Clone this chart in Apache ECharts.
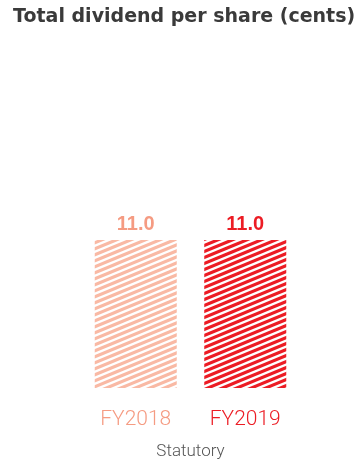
<!DOCTYPE html>
<html>
<head>
<meta charset="utf-8">
<script src="https://cdn.jsdelivr.net/npm/echarts@6/dist/echarts.min.js"></script>
<style>
  html, body { margin: 0; padding: 0; background: #fff; }
  #chart { width: 363px; height: 461px; }
</style>
</head>
<body>
<div id="chart"></div>
<script>
var categories = ["FY2018", "FY2019"];
var values = [11.0, 11.0];
var barColors = ["#F9B9A4", "#EC1C24"];
var labelColors = ["#F59B82", "#EC1C24"];

// diagonal stripe tile, lines rising to the right
function stripes(color) {
  var w = 58, h = 24, step = 6;
  var c = document.createElement("canvas");
  c.width = w; c.height = h;
  var ctx = c.getContext("2d");
  ctx.fillStyle = "#fff";
  ctx.fillRect(0, 0, w, h);
  ctx.strokeStyle = color;
  ctx.lineWidth = 3.1;
  for (var y = -step; y <= 2 * h + step; y += step) {
    ctx.beginPath();
    ctx.moveTo(-w, y + h);
    ctx.lineTo(2 * w, y - 2 * h);
    ctx.stroke();
  }
  return { image: c, repeat: "repeat" };
}

var chart = echarts.init(document.getElementById("chart"));
chart.setOption({
  animation: false,
  title: {
    text: "Total dividend per share (cents)",
    left: 8,
    top: 3,
    textStyle: { fontFamily: "DejaVu Sans", fontWeight: "bold", fontSize: 19, color: "#3a3a3a" }
  },
  grid: { left: 81, right: 63, top: 240, bottom: 71 },
  xAxis: {
    type: "category",
    data: categories,
    axisLine: { show: false },
    axisTick: { show: false },
    axisLabel: {
      margin: 21,
      fontFamily: "Roboto",
      fontWeight: 300,
      fontSize: 21,
      color: function (v, i) { return labelColors[i]; }
    },
    name: "Statutory",
    nameLocation: "middle",
    nameGap: 55,
    nameTextStyle: { fontFamily: "Roboto", fontWeight: 300, fontSize: 17, color: "#555" }
  },
  yAxis: {
    type: "value",
    min: 0,
    max: 11,
    show: false
  },
  series: [{
    type: "bar",
    barWidth: 82,
    data: values.map(function (v, i) {
      return {
        value: v,
        itemStyle: { color: stripes(barColors[i]) },
        label: { color: labelColors[i] }
      };
    }),
    label: {
      show: true,
      position: "top",
      distance: 6,
      fontFamily: "Liberation Sans",
      fontWeight: "bold",
      fontSize: 20,
      formatter: function (p) { return p.value.toFixed(1); }
    }
  }]
});
</script>
</body>
</html>
